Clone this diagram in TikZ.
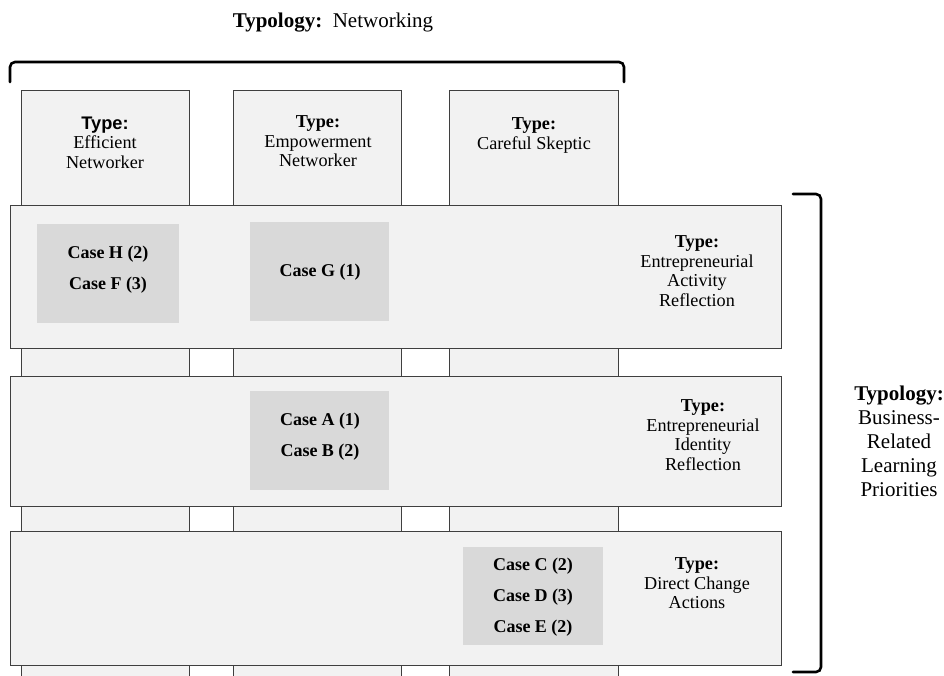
\documentclass[tikz,border=0pt]{standalone}
\usepackage{fontspec}
\setmainfont{Liberation Serif}
\newfontfamily\arialfont{Liberation Sans}
\definecolor{lightfill}{HTML}{F2F2F2}
\definecolor{casefill}{HTML}{D9D9D9}
\definecolor{edge}{HTML}{3F3F3F}
\begin{document}
\begin{tikzpicture}[x=1pt,y=-1pt,
  colbox/.style={draw=edge, line width=0.8pt, fill=lightfill, inner sep=0, anchor=north west},
  rowbox/.style={draw=edge, line width=0.8pt, fill=lightfill, inner sep=0, anchor=north west},
  casebox/.style={fill=casefill, inner sep=0, anchor=north west},
  lbl/.style={font=\fontsize{18.2}{19.5}\selectfont, align=center, inner sep=0},
  caselbl/.style={font=\fontsize{18}{31}\selectfont\bfseries, align=center, inner sep=0},
  brace/.style={line width=2.6pt, line cap=round, rounded corners=5pt}]
\useasboundingbox (0,0) rectangle (944,675);
% columns
\begin{scope}
\clip (0,0) rectangle (944,675);
\node[colbox, minimum width=168, minimum height=620] (c1) at (21,90) {};
\node[colbox, minimum width=168, minimum height=620] (c2) at (233,90) {};
\node[colbox, minimum width=169, minimum height=620] (c3) at (449,90) {};
\end{scope}
% column labels
\node[lbl, anchor=north] (t1) at (105,116.5) {{\arialfont\bfseries Type:}\\Efficient\\Networker};
\node[lbl, anchor=north] (t2) at (318,115.5) {\textbf{Type:}\\Empowerment\\Networker};
\node[lbl, anchor=north] (t3) at (534,117.5) {\textbf{Type:}\\Careful Skeptic};
% rows
\node[rowbox, minimum width=771, minimum height=143] (r1) at (10,205) {};
\node[rowbox, minimum width=771, minimum height=130] (r2) at (10,376) {};
\node[rowbox, minimum width=771, minimum height=134] (r3) at (10,531) {};
% case boxes
\node[casebox, minimum width=142, minimum height=99] (bHF) at (37,224) {};
\node[casebox, minimum width=139, minimum height=99] (bG) at (250,222) {};
\node[casebox, minimum width=139, minimum height=99] (bAB) at (250,391) {};
\node[casebox, minimum width=140, minimum height=98] (bCDE) at (463,547) {};
\node[caselbl] (lHF) at (108,270) {Case H (2)\\Case F (3)};
\node[caselbl] (lG) at (320,272.5) {Case G (1)};
\node[caselbl] (lAB) at (320,437) {Case A (1)\\Case B (2)};
\node[caselbl] (lCDE) at (533,597) {Case C (2)\\Case D (3)\\Case E (2)};
% row labels
\node[lbl, anchor=north] (rl1) at (697,235.5) {\textbf{Type:}\\Entrepreneurial\\Activity\\Reflection};
\node[lbl, anchor=north] (rl2) at (703,399.5) {\textbf{Type:}\\Entrepreneurial\\Identity\\Reflection};
\node[lbl, anchor=north] (rl3) at (697,557.5) {\textbf{Type:}\\Direct Change\\Actions};
% brackets
\coordinate (tbL) at (10,82);
\coordinate (tbR) at (624,82);
\draw[brace] (tbL) -- (10,62) -- (624,62) -- (tbR);
\coordinate (rbT) at (793,194);
\coordinate (rbB) at (793,672);
\draw[brace] (rbT) -- (821,194) -- (821,672) -- (rbB);
% typology labels
\node[font=\fontsize{21}{24}\selectfont, inner sep=0] (title) at (333,23) {\textbf{Typology:}\ \ Networking};
\node[font=\fontsize{21}{24}\selectfont, align=center, inner sep=0] (side) at (899,441.5) {\textbf{Typology:}\\Business-\\Related\\Learning\\Priorities};
\end{tikzpicture}
\end{document}
